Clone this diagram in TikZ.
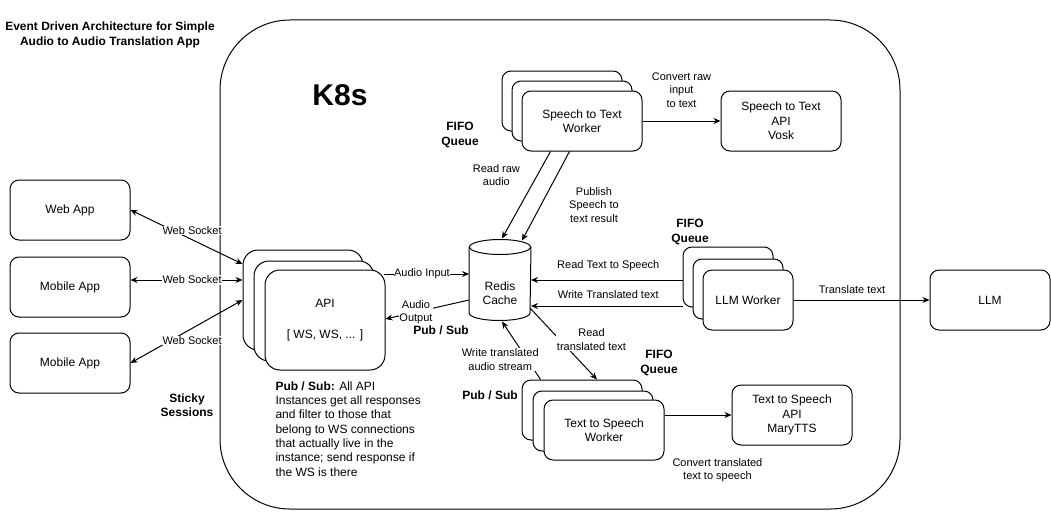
\documentclass[tikz,border=0pt]{standalone}
\usepackage{fontspec}
\setmainfont{Liberation Sans}
\usetikzlibrary{arrows.meta,calc}

\tikzset{
    box/.style={draw, rounded corners=9pt, fill=white, align=center,
        minimum width=120pt, minimum height=60pt,
        font=\fontsize{12}{14.4}\selectfont},
    lbl/.style={fill=white, inner sep=0.5pt, align=center,
        font=\fontsize{11}{13.5}\selectfont},
    hdr/.style={align=center, font=\bfseries\fontsize{12}{14.4}\selectfont},
}

\begin{document}
\begin{tikzpicture}[x=1pt, y=-1pt, line width=1pt, >={Stealth[length=7pt,width=6pt]}]
    \useasboundingbox (0,0) rectangle (1051,511);

    % cluster
    \draw[rounded corners=70pt] (220,20) rectangle (900,509);
    \node[font=\bfseries\fontsize{30}{36}\selectfont] (k8s) at (340,95) {K8s};
    \node[hdr] (title) at (110,35) {Event Driven Architecture for Simple\\Audio to Audio Translation App};

    % clients
    \node[box] (web) at (70,210) {Web App};
    \node[box] (mob1) at (70,287) {Mobile App};
    \node[box] (mob2) at (70,363) {Mobile App};

    % API instances
    \foreach \i/\d in {1/0,2/11}
    {
        \node[box, rounded corners=15pt, minimum height=100pt] (api\i) at (303+\d,300+\d) {};
    }
    \node[box, rounded corners=15pt, minimum height=100pt] (api3) at (325,320) {API\\[17pt]{[} WS, WS, ... {]}};

    % Redis
    \node[minimum width=61pt, minimum height=80pt, inner sep=0pt] (redis) at (500,280) {};
    \draw ($(redis.north)+(0,7.5)$) ellipse [x radius=30.5pt, y radius=7.5pt];
    \draw ($(redis.north west)+(0,7.5)$) -- ($(redis.south west)+(0,-7.5)$)
        arc[start angle=180, end angle=360, x radius=30.5pt, y radius=7.5pt] -- ($(redis.north east)+(0,7.5)$);
    \node[align=center, font=\fontsize{12}{14.4}\selectfont] (redistext) at ($(redis.center)+(0,13)$) {Redis\\Cache};

    % workers
    \foreach \i/\d in {1/0,2/10}
    {
        \node[box] (stt\i) at (562+\d,101+\d) {};
    }
    \node[box] (stt3) at (582,121) {Speech to Text\\Worker};
    \node[box] (sttapi) at (781,121) {Speech to Text\\API\\Vosk};

    \foreach \i/\dx/\dy in {1/0/0,2/10/12}
    {
        \node[box, minimum width=90pt] (llm\i) at (728+\dx,277+\dy) {};
    }
    \node[box, minimum width=90pt] (llm3) at (748,300) {LLM Worker};
    \node[box] (llm) at (990,300) {LLM};

    \foreach \i/\d in {1/0,2/11}
    {
        \node[box] (tts\i) at (582+\d,410+\d) {};
    }
    \node[box] (tts3) at (604,430) {Text to Speech\\Worker};
    \node[box] (ttsapi) at (792,415) {Text to Speech\\API\\MaryTTS};

    % headings
    \node[hdr] (fifo1) at (460,135) {FIFO\\Queue};
    \node[hdr] (fifo2) at (690,232) {FIFO\\Queue};
    \node[hdr] (fifo3) at (659,363) {FIFO\\Queue};
    \node[hdr] (pubsub1) at (441,330) {Pub / Sub};
    \node[hdr] (pubsub2) at (490,395) {Pub / Sub};
    \node[hdr] (sticky) at (187,405) {Sticky\\Sessions};

    \node[anchor=north west, inner sep=0pt, align=left, font=\fontsize{12}{14.3}\selectfont] (note) at (275,381)
        {\textbf{Pub / Sub:} All API\\Instances get all responses\\and filter to those that\\belong to WS connections\\that actually live in the\\instance; send response if\\the WS is there};

    % web sockets
    \draw[<->] (web.east) -- node[lbl, pos=.55, yshift=9pt] {Web Socket} ($(api1.west)+(0,-36)$);
    \draw[<->] ($(mob1.east)+(0,-7)$) -- node[lbl, pos=.55] {Web Socket} ($(api1.west)+(0,-20)$);
    \draw[<->] (mob2.east) -- node[lbl, pos=.55, yshift=-12pt] {Web Socket} (api1.west);

    % audio in / out
    \draw[->] ($(api3.east)+(-2,-46)$) -- node[lbl, pos=.45] {Audio Input} ($(redis.west)+(0,-6)$);
    \draw[->] ($(redis.west)+(0,20)$) -- node[lbl, pos=.635] {Audio\\Output} ($(api3.east)+(0,-1)$);

    % speech to text
    \draw[->] ($(stt3.south west)+(29,0)$) -- node[lbl, pos=.27, xshift=-41pt] {Read raw\\audio} ($(redis.north)+(2,-1)$);
    \draw[->] ($(stt3.south west)+(48,0)$) -- node[lbl, pos=.6, xshift=53pt] {Publish\\Speech to\\text result} ($(redis.north)+(22,1)$);
    \draw[->] (stt3.east) -- node[lbl, yshift=31pt] {Convert raw\\input\\to text} (sttapi.west);

    % translation
    \draw[->] (llm1.west |- redis.east) -- node[lbl, pos=.49, yshift=14pt] {Read Text to Speech} (redis.east);
    \draw[->] ($(llm1.west)+(0,29)$) -- node[lbl, pos=.49, yshift=11pt] {Write Translated text} ($(redis.east)+(0,26)$);
    \draw[->] (llm3.east) -- node[lbl, pos=.43, yshift=10pt] {Translate text} (llm.west);

    % text to speech
    \draw[->] ($(redis.east)+(-1,28)$) -- node[lbl, pos=.44, xshift=32pt] {Read\\translated text} ($(tts1.north)+(15,0)$);
    \draw[->] ($(tts1.north west)+(19,0)$) -- node[lbl, pos=.345, xshift=-27pt] {Write translated\\audio stream} ($(redis.south)+(2,1)$);
    \draw[->] (tts3.east |- ttsapi.west) -- node[lbl, pos=.79, yshift=-55pt] {Convert translated\\text to speech} (ttsapi.west);

\end{tikzpicture}
\end{document}
